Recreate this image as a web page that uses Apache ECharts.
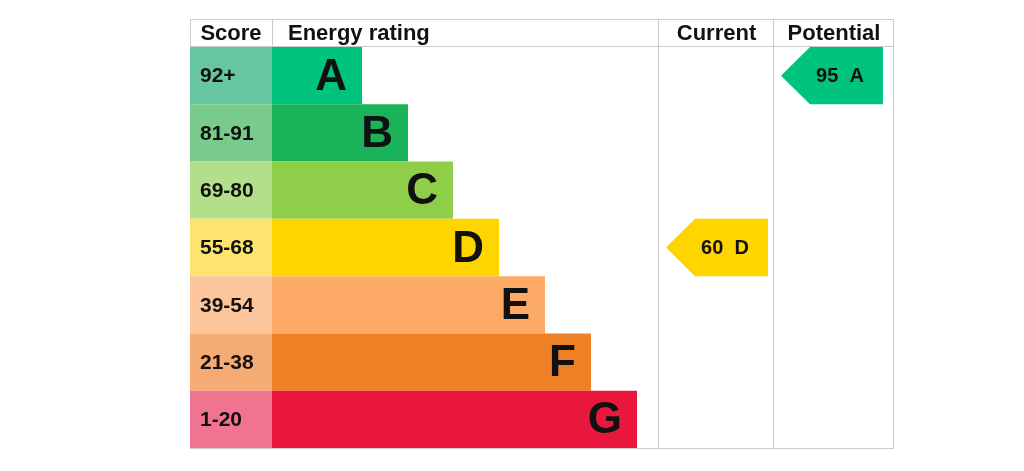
<!DOCTYPE html>
<html>
<head>
<meta charset="utf-8">
<script src="https://cdn.jsdelivr.net/npm/echarts@6/dist/echarts.min.js"></script>
<style>
    html, body { margin: 0; padding: 0; background: #fff; }
    #main { width: 1024px; height: 471px; }
</style>
</head>
<body>
<div id="main"></div>
<script>
// rating bands, top to bottom
var bands = ['A', 'B', 'C', 'D', 'E', 'F', 'G']
var scoreRanges = ['92+', '81-91', '69-80', '55-68', '39-54', '21-38', '1-20']
var bandMins = [92, 81, 69, 55, 39, 21, 1]
// where each rating bar ends, measured from the table's left edge
var barEnds = [172, 218, 263, 309, 355, 401, 447]
var headers = ['Score', 'Energy rating', 'Current', 'Potential']
var currentScore = 60
var potentialScore = 95

var bandColors = ['#00c47e', '#1ab35a', '#8ece48', '#ffd500', '#fcaa65', '#ee8026', '#e9173c']
var scoreColors = ['#66c6a2', '#79cb8c', '#b4df8a', '#fde46f', '#fdc59c', '#f5ab74', '#f07390']

// column edges in axis units
var scoreEnd = 82
var currentStart = 469
var potentialStart = 584
var tableEnd = 704

var font = '"Liberation Sans", Arial, sans-serif'
var lineColor = '#cbcbcb'

function bandOf(score) {
    for (var i = 0; i < bandMins.length; i++) {
        if (score >= bandMins[i]) return i
    }
    return bandMins.length - 1
}

var chart = echarts.init(document.getElementById('main'))

function renderBand(params, api) {
    var idx = api.value(0)
    var end = api.value(1)
    var c = api.coord([0, idx])
    var h = api.size([0, 1])[1]
    var x0 = api.coord([0, idx])[0]
    var xs = api.coord([scoreEnd, idx])[0]
    var xe = api.coord([end, idx])[0]
    var top = c[1] - h / 2
    return {
        type: 'group',
        children: [
            {
                type: 'rect',
                shape: { x: x0, y: top, width: xs - x0, height: h },
                style: { fill: scoreColors[idx] }
            },
            {
                type: 'text',
                style: {
                    x: x0 + 10, y: c[1] + 1, text: scoreRanges[idx],
                    fill: '#111', font: 'bold 21px ' + font,
                    textAlign: 'left', textVerticalAlign: 'middle'
                }
            },
            {
                type: 'rect',
                shape: { x: xs, y: top, width: xe - xs, height: h },
                style: { fill: bandColors[idx] }
            },
            {
                type: 'text',
                style: {
                    x: xe - 15, y: c[1] + 2, text: bands[idx],
                    fill: '#111', font: 'bold 44px ' + font,
                    textAlign: 'right', textVerticalAlign: 'middle'
                }
            }
        ]
    }
}

function renderArrow(params, api) {
    var score = api.value(0)
    var colStart = api.value(1)
    var idx = bandOf(score)
    var c = api.coord([0, idx])
    var h = api.size([0, 1])[1]
    var x0 = api.coord([colStart, idx])[0] + 7
    var x1 = x0 + 102
    var top = c[1] - h / 2
    var bottom = c[1] + h / 2
    return {
        type: 'group',
        children: [
            {
                type: 'polygon',
                shape: { points: [[x0, c[1]], [x0 + 29, top], [x1, top], [x1, bottom], [x0 + 29, bottom]] },
                style: { fill: bandColors[idx] }
            },
            {
                type: 'text',
                style: {
                    x: (x0 + x1) / 2 + 8, y: c[1] + 1, text: score + '  ' + bands[idx],
                    fill: '#111', font: 'bold 20px ' + font,
                    textAlign: 'center', textVerticalAlign: 'middle'
                }
            }
        ]
    }
}

var bandData = bands.map(function (b, i) { return [i, barEnds[i]] })

var option = {
    animation: false,
    backgroundColor: '#fff',
    grid: { left: 190, top: 47, width: 704, height: 401 },
    xAxis: { type: 'value', min: 0, max: tableEnd, show: false },
    yAxis: { type: 'category', data: bands, inverse: true, show: false },
    series: [
        {
            name: 'bands',
            type: 'custom',
            renderItem: renderBand,
            encode: { x: 1, y: 0 },
            data: bandData,
            z: 2
        },
        {
            name: 'ratings',
            type: 'custom',
            renderItem: renderArrow,
            data: [
                [currentScore, currentStart],
                [potentialScore, potentialStart]
            ],
            z: 3
        }
    ]
}
chart.setOption(option)

// table frame and header texts
var L = 190, T = 19, HB = 47, B = 448
var colX = [L, L + scoreEnd, L + currentStart, L + potentialStart, L + tableEnd]
var g = []
function line(x1, y1, x2, y2) {
    g.push({
        type: 'line', z: 1,
        shape: { x1: x1, y1: y1, x2: x2, y2: y2 },
        style: { stroke: lineColor, lineWidth: 1 }
    })
}
line(L, T + 0.5, colX[4], T + 0.5)
line(L, HB - 0.5, colX[4], HB - 0.5)
line(L, B + 0.5, colX[4], B + 0.5)
line(L + 0.5, T, L + 0.5, B)
line(colX[1] + 0.5, T, colX[1] + 0.5, HB)
line(colX[2] - 0.5, T, colX[2] - 0.5, B)
line(colX[3] - 0.5, T, colX[3] - 0.5, B)
line(colX[4] - 0.5, T, colX[4] - 0.5, B)

var headerX = [(colX[0] + colX[1]) / 2, colX[1] + 16, (colX[2] + colX[3]) / 2, (colX[3] + colX[4]) / 2]
var headerAlign = ['center', 'left', 'center', 'center']
headers.forEach(function (h, i) {
    g.push({
        type: 'text', z: 5,
        style: {
            x: headerX[i], y: 34, text: h,
            fill: '#111', font: 'bold 22px ' + font,
            textAlign: headerAlign[i], textVerticalAlign: 'middle'
        }
    })
})
chart.setOption({ graphic: g })
</script>
</body>
</html>
